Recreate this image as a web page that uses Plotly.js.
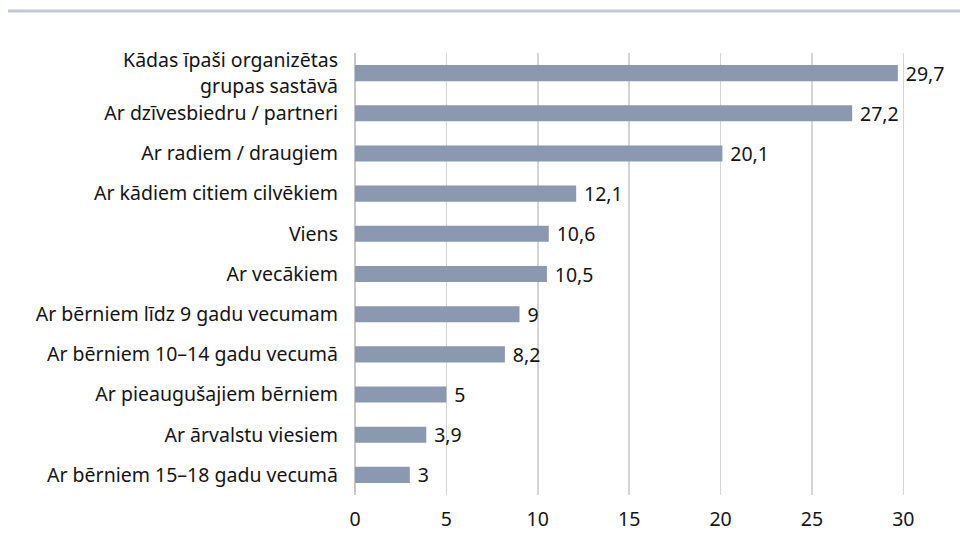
<!DOCTYPE html>
<html><head><meta charset="utf-8">
<script src="https://cdn.plot.ly/plotly-3.0.1.min.js"></script>
<style>html,body{margin:0;padding:0;background:#fff}#chart{width:960px;height:541px}</style>
</head><body><div id="chart"></div>
<script>
const categories = [
  "Kādas īpaši organizētas<br>grupas sastāvā",
  "Ar dzīvesbiedru / partneri",
  "Ar radiem / draugiem",
  "Ar kādiem citiem cilvēkiem",
  "Viens",
  "Ar vecākiem",
  "Ar bērniem līdz 9 gadu vecumam",
  "Ar bērniem 10–14 gadu vecumā",
  "Ar pieaugušajiem bērniem",
  "Ar ārvalstu viesiem",
  "Ar bērniem 15–18 gadu vecumā"
];
const values = [29.7, 27.2, 20.1, 12.1, 10.6, 10.5, 9, 8.2, 5, 3.9, 3];
const xTicks = [0, 5, 10, 15, 20, 25, 30];

const FONT = "'Noto Sans', sans-serif";
const FS = 19.5;
const trace = {
  type: 'bar', orientation: 'h',
  x: values, y: categories,
  marker: {color: '#8a99b0'},
  text: values.map(v => '\u2005' + String(v).replace('.', ',')),
  textposition: 'outside', cliponaxis: false, constraintext: 'none',
  textfont: {family: FONT, size: FS, color: '#141414'},
  hoverinfo: 'none'
};
const layout = {
  width: 960, height: 541,
  margin: {l: 355, r: 53, t: 53, b: 46},
  paper_bgcolor: '#fff', plot_bgcolor: '#fff',
  bargap: 0.6,
  showlegend: false,
  font: {family: FONT, size: FS, color: '#141414'},
  xaxis: {range: [0, 30.2], tickvals: xTicks, ticktext: xTicks.map(String),
          showgrid: true, gridcolor: '#d4d4d4', gridwidth: 1.5,
          zeroline: true, zerolinecolor: '#c8c8c8', zerolinewidth: 1.5,
          showline: false, ticks: '', ticklabelstandoff: 10,
          tickfont: {family: FONT, size: FS, color: '#141414'}},
  yaxis: {autorange: 'reversed', showgrid: false, zeroline: false, showline: false,
          ticks: '', ticklabelstandoff: 16, tickfont: {family: FONT, size: FS, color: '#141414'}},
  shapes: [{type: 'line', xref: 'paper', yref: 'paper', x0: -347/552, x1: (960-355)/552,
            y0: 1 + 42/442, y1: 1 + 42/442,
            line: {color: '#c2c9d3', width: 3}}]
};
Plotly.newPlot('chart', [trace], layout, {displayModeBar: false, staticPlot: true});
</script></body></html>
